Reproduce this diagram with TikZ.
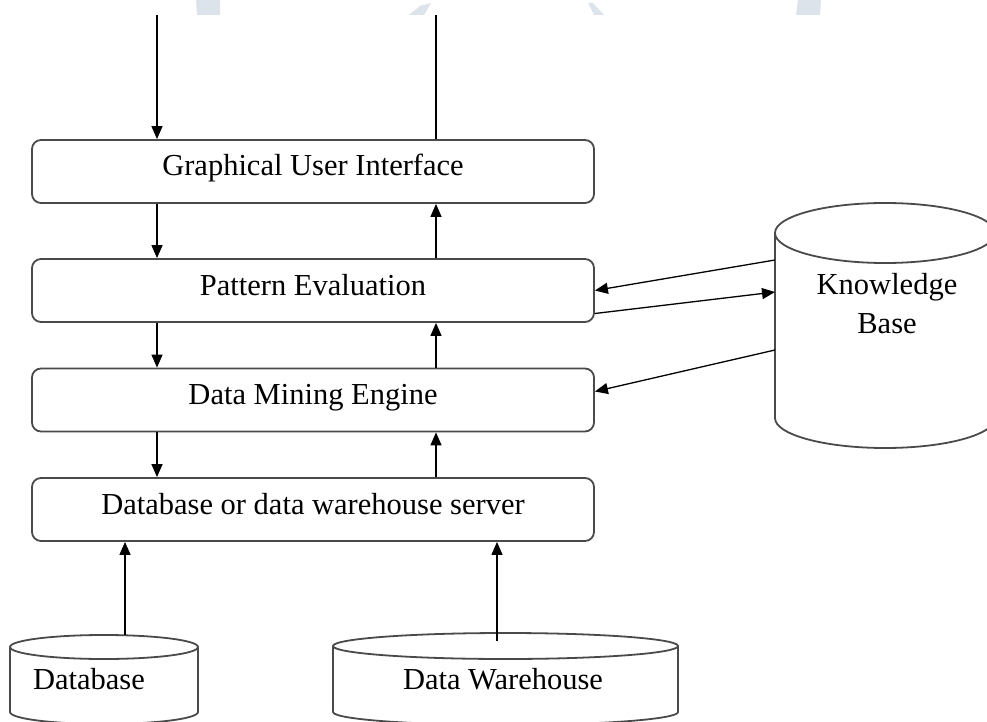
\documentclass[tikz,border=0pt]{standalone}
\usepackage{fontspec}
\setmainfont{Liberation Serif}
\usetikzlibrary{arrows.meta}
\definecolor{wmark}{HTML}{DDE3EA}
\definecolor{edgegray}{HTML}{4A4A4A}
\begin{document}
\begin{tikzpicture}[x=1pt,y=-1pt,
  layerbox/.style={draw=edgegray, line width=1.8pt, rounded corners=9pt,
    minimum width=562pt, minimum height=63pt, inner sep=0pt,
    text height=20pt, text depth=11pt,
    font=\fontsize{30.5}{36}\selectfont},
  flow/.style={line width=1.3pt, -{Triangle[length=13pt,width=11pt]}},
  plainline/.style={line width=1.3pt},
  cyl/.style={draw=edgegray, line width=1.8pt},
  lbl/.style={inner sep=0pt, font=\fontsize{30.5}{39}\selectfont}
]
\useasboundingbox (0,0) rectangle (987,722);
\clip (0,0) rectangle (987,722);

% faint watermark fragments
\fill[wmark] (196,0) -- (220,0) -- (220,15) -- (197,15) -- cycle;
\fill[wmark] (409,15) -- (424,15) -- (431,3) -- (420,6) -- cycle;
\fill[wmark] (588,3) -- (593,3) -- (604,15) -- (594,15) -- cycle;
\fill[wmark] (798,0) -- (821,0) -- (820,15) -- (796,15) -- cycle;

% layers
\node[layerbox] (gui) at (313,171.5) {Graphical User Interface};
\node[layerbox] (pe)  at (313,290.5) {Pattern Evaluation};
\node[layerbox] (dme) at (313,400)   {Data Mining Engine};
\node[layerbox] (dbs) at (313,509.5) {Database or data warehouse server};

% vertical flows
\coordinate (inTop)  at (157,15);
\coordinate (outTop) at (436,15);
\draw[flow] (inTop) -- (inTop |- gui.north);
\draw[plainline] (outTop |- gui.north) -- (outTop);
\draw[flow] (inTop |- gui.south) -- (inTop |- pe.north);
\draw[flow] (inTop |- pe.south)  -- (inTop |- dme.north);
\draw[flow] (inTop |- dme.south) -- (inTop |- dbs.north);
\draw[flow] (outTop |- pe.north)  -- (outTop |- gui.south);
\draw[flow] (outTop |- dme.north) -- (outTop |- pe.south);
\draw[flow] (outTop |- dbs.north) -- (outTop |- dme.south);

% Knowledge base cylinder
\draw[cyl] (885,233) ellipse [x radius=110pt, y radius=30pt];
\draw[cyl] (775,233) -- (775,418) arc[start angle=180, end angle=360, x radius=110pt, y radius=30pt] -- (995,233);
\node[lbl, align=center] (kb) at (887,304) {Knowledge\\Base};
\coordinate (kb1) at (775,260);
\coordinate (kb2) at (775,292);
\coordinate (kb3) at (775,350);
\draw[flow] (kb1) -- (pe.east);
\draw[flow] ([yshift=-23pt]pe.east) -- (kb2);
\draw[flow] (kb3) -- ([yshift=8.5pt]dme.east);

% Database cylinder
\draw[cyl] (104,647) ellipse [x radius=94pt, y radius=12pt];
\draw[cyl] (10,647) -- (10,712) arc[start angle=180, end angle=360, x radius=94pt, y radius=12pt] -- (198,647);
\node[lbl] (db) at (89,679) {Database};
\coordinate (dbtop) at (125,635);
\draw[flow] (dbtop) -- (dbtop |- dbs.south);

% Data warehouse cylinder
\draw[cyl] (505.5,646) ellipse [x radius=172.5pt, y radius=13pt];
\draw[cyl] (333,646) -- (333,712) arc[start angle=180, end angle=360, x radius=172.5pt, y radius=13pt] -- (678,646);
\node[lbl] (dw) at (503,679) {Data Warehouse};
\coordinate (dwtop) at (497,641);
\draw[flow] (dwtop) -- (dwtop |- dbs.south);
\end{tikzpicture}
\end{document}
